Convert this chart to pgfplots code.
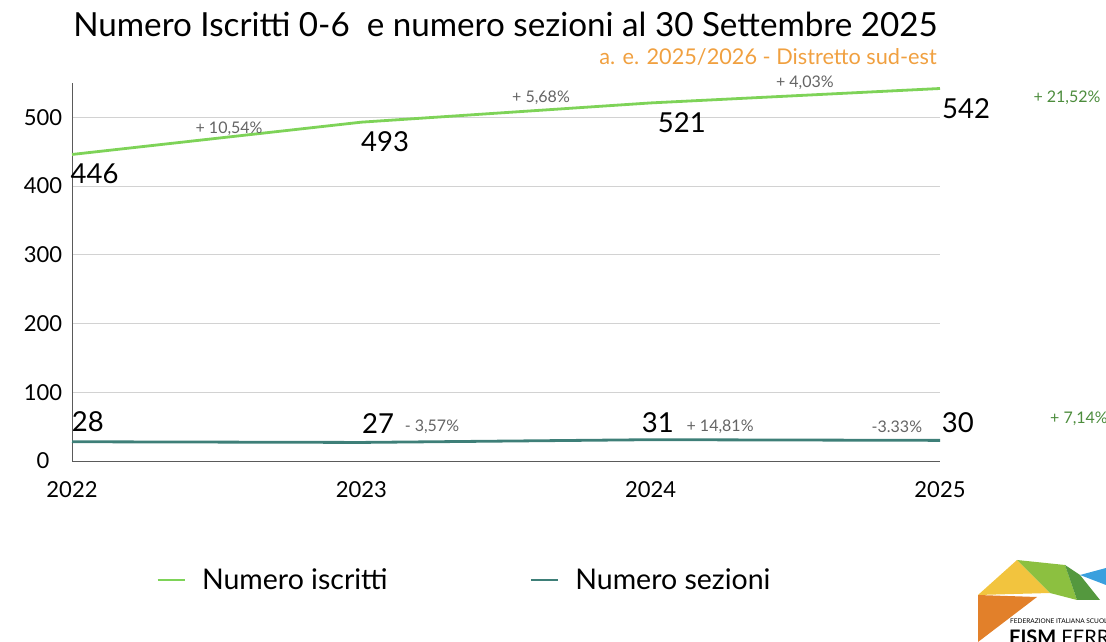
\documentclass[border=0pt]{standalone}
\usepackage{pgfplots}
\pgfplotsset{compat=1.18}
\usepackage{fontspec}
\setmainfont{Lato}
\definecolor{lgreen}{RGB}{126,211,88}
\definecolor{teal2}{RGB}{62,127,120}
\definecolor{orangeT}{RGB}{240,160,64}
\definecolor{dgreen}{RGB}{76,140,60}
\definecolor{pgray}{RGB}{100,100,100}
\definecolor{gridc}{RGB}{210,210,210}
\definecolor{axc}{RGB}{90,90,90}
\definecolor{lgY}{RGB}{242,196,62}
\definecolor{lgG}{RGB}{140,192,64}
\definecolor{lgD}{RGB}{84,152,62}
\definecolor{lgB}{RGB}{58,160,222}
\definecolor{lgO}{RGB}{226,128,42}
\begin{document}
\begin{tikzpicture}[x=1pt,y=1pt]
\useasboundingbox (0,0) rectangle (1106,642);
\begin{axis}[
  at={(72pt,181pt)}, anchor=south west,
  scale only axis, width=868pt, height=378pt,
  xmin=2022, xmax=2025, ymin=0, ymax=550,
  axis x line=bottom, axis y line=left,
  axis line style={-, axc, line width=0.8pt},
  xtick={2022,2023,2024,2025},
  xticklabels={2022,2023,2024,2025},
  ytick={0,100,200,300,400,500},
  major tick length=0pt,
  ymajorgrids, grid style={gridc, line width=0.8pt},
  /pgf/number format/assume math mode=true,
  /pgf/number format/1000 sep={},
  ticklabel style={font=\fontsize{22}{26}\selectfont},
  yticklabel style={anchor=center, xshift=-29pt},
  xticklabel style={anchor=center, yshift=-29pt},
  clip=false,
  legend columns=2,
  legend style={at={(rel axis cs:0.097,-0.315)}, anchor=west, draw=none, fill=none,
    font=\fontsize{28.5}{32}\selectfont, inner sep=0pt,
    /tikz/every even column/.append style={column sep=133pt},
    nodes={inner xsep=9pt}},
  legend cell align=left,
  legend image code/.code={\draw[#1, line width=2.5pt] (0pt,0pt) -- (27pt,0pt); \path (34pt,0pt);},
]
\addplot[lgreen, line width=2.8pt] coordinates {(2022,446) (2023,493) (2024,521) (2025,542)};
\addlegendentry{Numero iscritti}
\addplot[teal2, line width=2.8pt] coordinates {(2022,28) (2023,27) (2024,31) (2025,30)};
\addlegendentry{Numero sezioni}

\begin{scope}[every node/.style={font=\fontsize{27.5}{31}\selectfont, inner sep=0pt}]
\node at (axis cs:2022.078,418.6) {446};
\node at (axis cs:2023.082,465.1) {493};
\node at (axis cs:2024.108,492.7) {521};
\node at (axis cs:2025.090,513.1) {542};
\node at (axis cs:2022.055,56.7) {28};
\node at (axis cs:2023.058,55.2) {27};
\node at (axis cs:2024.025,55.2) {31};
\node at (axis cs:2025.062,55.2) {30};
\end{scope}
\begin{scope}[every node/.style={font=\fontsize{16}{18}\selectfont, inner sep=0pt, text=pgray}]
\node at (axis cs:2022.543,484.0) {+ 10,54\%};
\node at (axis cs:2023.621,529.1) {+ 5,68\%};
\node at (axis cs:2024.533,550.9) {+ 4,03\%};
\node at (axis cs:2023.244,49.4) {- 3,57\%};
\node at (axis cs:2024.240,49.4) {+ 14,81\%};
\node at (axis cs:2024.851,49.4) {-3.33\%};
\end{scope}
\begin{scope}[every node/.style={font=\fontsize{16}{18}\selectfont, inner sep=0pt, text=dgreen}]
\node at (axis cs:2025.439,529) {+ 21,52\%};
\node[anchor=west] at (axis cs:2025.380,61) {+ 7,14\%};
\end{scope}
\end{axis}
\node[font=\fontsize{33.2}{38}\selectfont, inner sep=0pt, anchor=base] at (505.5,605) {Numero Iscritti 0-6\ \ e numero sezioni al 30 Settembre 2025};
\node[font=\fontsize{21.7}{25}\selectfont, inner sep=0pt, anchor=base east, text=orangeT] at (937,577) {a. e. 2025/2026 - Distretto sud-est};
% logo
\fill[lgY] (978,47) -- (1017,82) -- (1050,49) -- cycle;
\fill[lgG] (1017,82) -- (1065,77) -- (1077,42) -- (1050,49) -- cycle;
\fill[lgD] (1065,77) -- (1080,67) -- (1100,42) -- (1077,42) -- cycle;
\fill[lgB] (1080,67) -- (1106,74) -- (1106,57) -- cycle;
\fill[lgO] (978,47) -- (1037,45) -- (978,0) -- cycle;
\node[font=\fontsize{6.5}{7}\selectfont, anchor=west, inner sep=0pt] at (1010,21) {FEDERAZIONE ITALIANA SCUOLE};
\node[font=\fontsize{20}{22}\selectfont, anchor=base west, inner sep=0pt] at (1009,-3) {\textbf{FISM} FERRARA};
\end{tikzpicture}
\end{document}
